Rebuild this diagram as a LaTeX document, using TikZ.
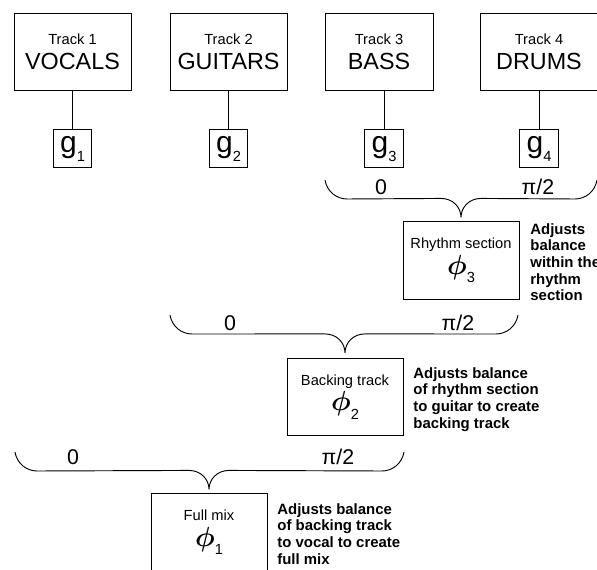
\documentclass[tikz,border=0pt]{standalone}
\usepackage{amsmath,amssymb}
\usepackage{fontspec}
\setmainfont{Liberation Sans}
\usetikzlibrary{positioning,calc}

\newcommand{\gainlabel}[1]{g\raisebox{-0.55ex}{\fontsize{11}{11}\selectfont #1}}
\newcommand{\phaselabel}[1]{$\boldsymbol{\phi}$\raisebox{-0.6ex}{\fontsize{11}{11}\selectfont #1}}
\newcommand{\phasebrace}[3]{%
  \draw[brace] (#1) .. controls +(2,12) and +(-10,0) .. ++(22,19)
    -- ($(#2)+(-20,-19)$) .. controls +(12,0) and +(0,-10) .. (#2)
    .. controls +(0,-10) and +(-12,0) .. ($(#2)+(20,-19)$)
    -- ($(#3)+(-22,19)$) .. controls +(10,0) and +(-2,12) .. (#3);}

\begin{document}
\begin{tikzpicture}[
    x=0.75pt, y=-0.75pt,
    line width=0.6pt,
    track/.style={draw, minimum width=87.75pt, minimum height=57.75pt, inner sep=0pt, align=center, font=\fontsize{17.5}{18.75}\selectfont},
    gbox/.style={draw, minimum width=29pt, minimum height=28.5pt, inner sep=0pt, font=\fontsize{22.5}{22.5}\selectfont},
    mixer/.style={draw, minimum width=87pt, minimum height=58pt, inner sep=0pt, align=center, font=\fontsize{20.5}{19}\selectfont},
    note/.style={anchor=north west, inner sep=0pt, align=left, font=\fontsize{11.2}{12.5}\selectfont\bfseries},
    phase/.style={font=\fontsize{16}{16}\selectfont},
    brace/.style={line width=0.7pt}
]
\useasboundingbox (0,0) rectangle (597,570);

% tracks
\node[track] (T1) at (72.5,51.5) {{\fontsize{11}{12}\selectfont Track 1}\\VOCALS};
\node[track] (T2) at (228.5,51.5) {{\fontsize{11}{12}\selectfont Track 2}\\GUITARS};
\node[track, minimum width=81pt] (T3) at (379,51.5) {{\fontsize{11}{12}\selectfont Track 3}\\BASS};
\node[track] (T4) at (539,51.5) {{\fontsize{11}{12}\selectfont Track 4}\\DRUMS};

% gains
\node[gbox, below=29.25pt of T1] (g1) {\gainlabel{1}};
\node[gbox, below=29.25pt of T2] (g2) {\gainlabel{2}};
\node[gbox, below=29.25pt of T3, xshift=3.75pt] (g3) {\gainlabel{3}};
\node[gbox, below=29.25pt of T4] (g4) {\gainlabel{4}};

\draw (T1) -- (g1);
\draw (T2) -- (g2);
\draw (g3.north) -- (g3.north |- T3.south);
\draw (g4.north) -- (g4.north |- T4.south);

% mixers
\node[mixer] (RS) at (461,260.5) {{\fontsize{11}{12}\selectfont Rhythm section}\\\phaselabel{3}};
\node[mixer] (BT) at (345,397) {{\fontsize{11}{12}\selectfont Backing track}\\\phaselabel{2}};
\node[mixer] (FM) at (209,532.5) {{\fontsize{11}{12}\selectfont Full mix}\\\phaselabel{1}};

% braces
\coordinate (b1l) at (325,180);
\coordinate (b1t) at ($(RS.north)+(0,-4)$);
\coordinate (b1r) at (597,180);
\phasebrace{b1l}{b1t}{b1r}

\coordinate (b2l) at (170,315);
\coordinate (b2t) at ($(BT.north)+(0,-5)$);
\coordinate (b2r) at (518,315);
\phasebrace{b2l}{b2t}{b2r}

\coordinate (b3l) at (15,452);
\coordinate (b3t) at ($(FM.north)+(0,-4)$);
\coordinate (b3r) at (404,452);
\phasebrace{b3l}{b3t}{b3r}

% phase ends
\node[phase] (z1) at (381,187) {0};
\node[phase] (p1) at (538,187) {π/2};
\node[phase] (z2) at (230,323) {0};
\node[phase] (p2) at (458,323) {π/2};
\node[phase] (z3) at (73,457) {0};
\node[phase] (p3) at (338,457) {π/2};

% notes
\node[note] (nRS) at (530,223) {Adjusts\\balance\\within the\\rhythm\\section};
\node[note] (nBT) at (413,367) {Adjusts balance\\of rhythm section\\to guitar to create\\backing track};
\node[note] (nFM) at (277,503) {Adjusts balance\\of backing track\\to vocal to create\\full mix};
\end{tikzpicture}
\end{document}
